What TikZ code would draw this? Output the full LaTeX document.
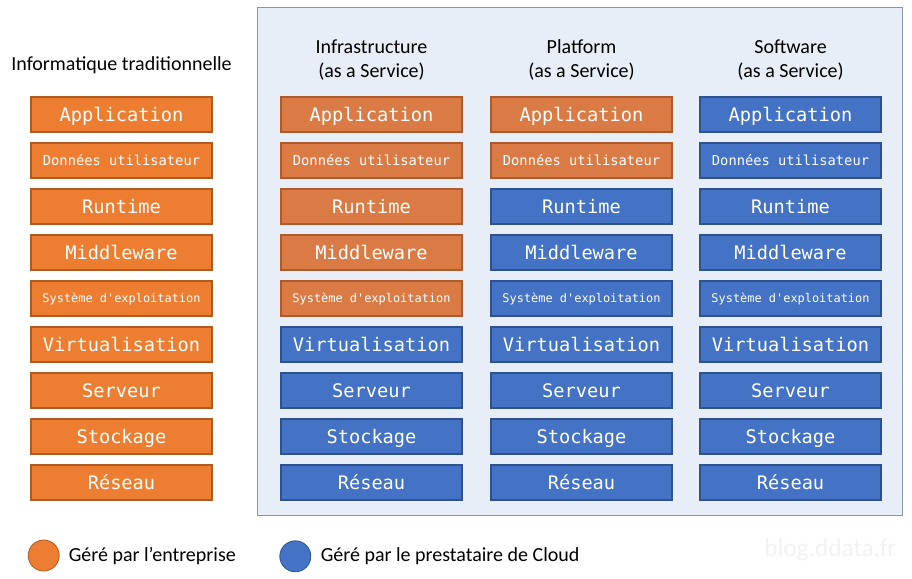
\documentclass[tikz,border=0pt]{standalone}
\usepackage{fontspec}
\setmainfont{Carlito}
\newfontfamily\boxfont{DejaVu Sans Mono}
\definecolor{orA}{HTML}{ED7D31}
\definecolor{orAd}{HTML}{AE5A21}
\definecolor{orB}{HTML}{DA7B45}
\definecolor{orBd}{HTML}{AE5A2A}
\definecolor{blA}{HTML}{4472C4}
\definecolor{blAd}{HTML}{2F528F}
\definecolor{panelfill}{HTML}{E8EEF7}
\definecolor{panelline}{HTML}{8497B0}
\definecolor{wm}{HTML}{F2F2F2}
\begin{document}
\begin{tikzpicture}[x=0.75pt,y=-0.75pt,
  layer/.style={draw, line width=0.9pt, minimum width=135.75pt, minimum height=26.25pt,
    inner sep=0pt, text=white, text depth=0pt},
  layorA/.style={fill=orA, draw=orAd},
  layorB/.style={fill=orB, draw=orBd},
  laybl/.style={fill=blA, draw=blAd},
  big/.style={font=\boxfont\fontsize{14}{16}\selectfont, text height=10.2pt},
  small/.style={font=\boxfont\fontsize{10.3}{12}\selectfont, text height=7.5pt},
  tiny/.style={font=\boxfont\fontsize{8.95}{11}\selectfont, text height=6.5pt},
  head/.style={align=center, inner sep=0pt, font=\fontsize{15}{18}\selectfont},
  legtext/.style={anchor=west, inner sep=0pt, font=\fontsize{15}{18}\selectfont},
  dot/.style={circle, minimum size=23.25pt, inner sep=0pt, line width=0.6pt}
]
\useasboundingbox (0,0) rectangle (912,578);
\fill[white] (0,0) rectangle (912,578);
\draw[fill=panelfill, draw=panelline, line width=0.9pt] (257.5,7.5) rectangle (902.5,515.5);

\node[head] (hL) at (121.5,66) {\strut Informatique traditionnelle};
\node[head] (hI) at (371.5,60.5) {\strut Infrastructure\\\strut(as a Service)};
\node[head] (hP) at (581.5,60.5) {\strut Platform\\\strut(as a Service)};
\node[head] (hS) at (790.5,60.5) {\strut Software\\\strut(as a Service)};

\foreach \col/\cx/\norange/\oc in {L/121.5/9/orA, I/371.5/5/orB, P/581.5/2/orB, S/790.5/0/orB}{
  \foreach \i/\t/\f in {1/Application/big, 2/Données utilisateur/small, 3/Runtime/big,
      4/Middleware/big, 5/Système d\textquotesingle exploitation/tiny, 6/Virtualisation/big,
      7/Serveur/big, 8/Stockage/big, 9/Réseau/big}{
    \ifnum\i>\norange\relax \def\st{bl}\else\edef\st{\oc}\fi
    \node[layer, lay\st, \f] (\col\i) at (\cx,{97+46*(\i-1)+17.5}) {\t};
  }
}

\node[dot, fill=orA, draw=orAd] (c1) at (43.7,555.5) {};
\node[legtext] (t1) at (68.5,556) {Géré par l'entreprise};
\node[dot, fill=blA, draw=blAd] (c2) at (295.3,556.3) {};
\node[legtext] (t2) at (320.5,556) {Géré par le prestataire de Cloud};
\node[anchor=west, inner sep=0pt, text=wm, font=\fontsize{19}{22}\selectfont] (wmk) at (764,550) {blog.ddata.fr};
\end{tikzpicture}
\end{document}
